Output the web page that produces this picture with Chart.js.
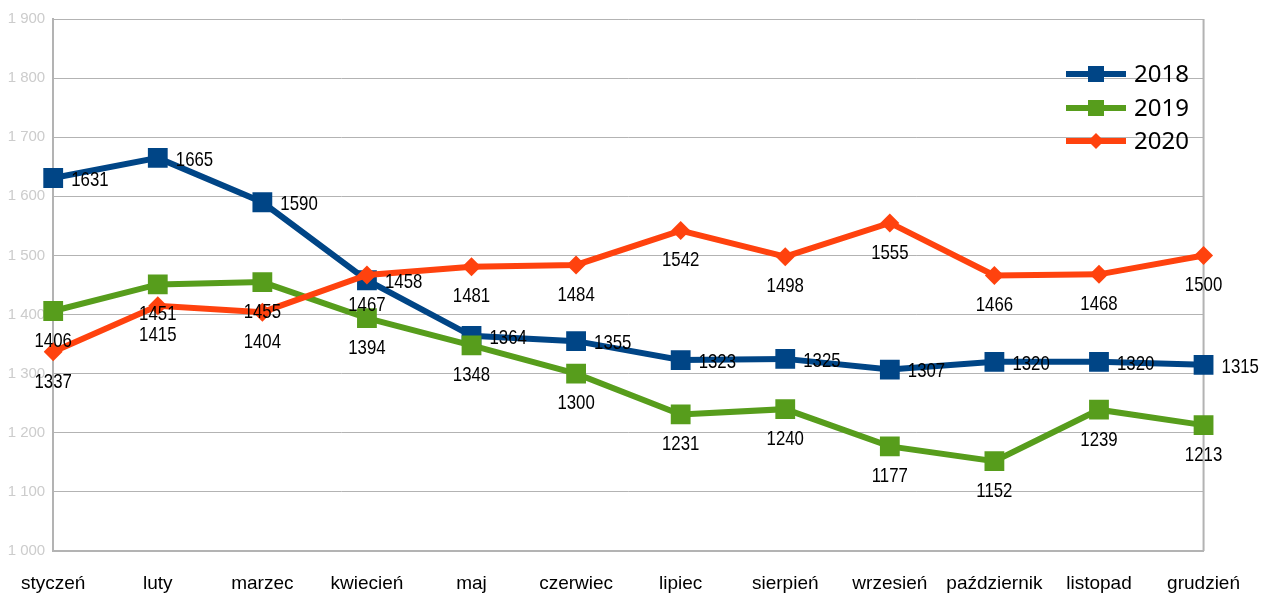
<!DOCTYPE html>
<html>
<head>
<meta charset="utf-8">
<script src="https://cdn.jsdelivr.net/npm/chart.js@4/dist/chart.umd.min.js"></script>
<style>
  html, body { margin: 0; padding: 0; background: #fff; }
  canvas { display: block; }
</style>
</head>
<body>
<canvas id="chart" width="1261" height="594"></canvas>
<script>
// miesiące
const MONTHS = ['styczeń', 'luty', 'marzec', 'kwiecień', 'maj', 'czerwiec',
    'lipiec', 'sierpień', 'wrzesień', 'październik', 'listopad', 'grudzień'];

const Y2018 = [1631, 1665, 1590, 1458, 1364, 1355, 1323, 1325, 1307, 1320, 1320, 1315];
const Y2019 = [1406, 1451, 1455, 1394, 1348, 1300, 1231, 1240, 1177, 1152, 1239, 1213];
const Y2020 = [1337, 1415, 1404, 1467, 1481, 1484, 1542, 1498, 1555, 1466, 1468, 1500];

const Y_MIN = 1000;
const Y_MAX = 1900;
const Y_STEP = 100;

const SANS = "'Liberation Sans', Arial, sans-serif";
const GRID = '#b3b3b3';

// etykiety wartości przy punktach (wąskie, jak Arial Narrow)
const valueLabels = {
    id: 'valueLabels',
    afterDatasetsDraw(chart) {
        const ctx = chart.ctx;
        const sx = 0.8;
        ctx.save();
        ctx.font = '21px ' + SANS;
        ctx.fillStyle = '#000';
        ctx.textBaseline = 'middle';
        chart.data.datasets.forEach((ds, i) => {
            const meta = chart.getDatasetMeta(i);
            meta.data.forEach((pt, j) => {
                const txt = String(ds.data[j]);
                ctx.save();
                if (ds.labelPos === 'right') {
                    ctx.translate(pt.x + 18, pt.y + 2);
                    ctx.scale(sx, 1);
                    ctx.textAlign = 'left';
                } else {
                    ctx.translate(pt.x, pt.y + 30);
                    ctx.scale(sx, 1);
                    ctx.textAlign = 'center';
                }
                ctx.fillText(txt, 0, 0);
                ctx.restore();
            });
        });
        ctx.restore();
    },
};

// ramka obszaru wykresu + legenda po prawej
const frameAndLegend = {
    id: 'frameAndLegend',
    beforeDatasetsDraw(chart) {
        const { ctx, chartArea: a } = chart;
        ctx.save();
        ctx.strokeStyle = GRID;
        ctx.lineWidth = 2;
        ctx.beginPath();
        ctx.moveTo(a.right, a.top);
        ctx.lineTo(a.right, a.bottom);
        ctx.stroke();
        ctx.restore();
    },
    afterDraw(chart) {
        const ctx = chart.ctx;
        const rows = [74, 108, 141];
        ctx.save();
        chart.data.datasets.forEach((ds, i) => {
            const y = rows[i];
            ctx.strokeStyle = ds.borderColor;
            ctx.lineWidth = 6;
            ctx.beginPath();
            ctx.moveTo(1066, y);
            ctx.lineTo(1126, y);
            ctx.stroke();
            ctx.fillStyle = ds.borderColor;
            ctx.beginPath();
            if (ds.pointStyle === 'rectRot') {
                ctx.moveTo(1096, y - 8);
                ctx.lineTo(1104, y);
                ctx.lineTo(1096, y + 8);
                ctx.lineTo(1088, y);
                ctx.closePath();
            } else {
                ctx.rect(1088, y - 8, 16, 16);
            }
            ctx.fill();
            ctx.fillStyle = '#000';
            ctx.font = "24px 'Noto Sans', sans-serif";
            ctx.textAlign = 'left';
            ctx.textBaseline = 'middle';
            ctx.fillText(ds.label, 1134, y + 1);
        });
        ctx.restore();
    },
};

function series(label, data, color, style, radius, order, labelPos) {
    return {
        label, data,
        borderColor: color,
        backgroundColor: color,
        borderWidth: 6,
        tension: 0,
        pointStyle: style,
        pointRadius: radius,
        pointHoverRadius: radius,
        pointBorderWidth: 0,
        order,
        labelPos,
    };
}

new Chart(document.getElementById('chart'), {
    type: 'line',
    data: {
        labels: MONTHS,
        datasets: [
            series('2018', Y2018, '#004586', 'rect', 14, 2, 'right'),
            series('2019', Y2019, '#579d1c', 'rect', 14, 1, 'below'),
            series('2020', Y2020, '#ff420e', 'rectRot', 9.5, 0, 'below'),
        ],
    },
    options: {
        responsive: false,
        animation: false,
        devicePixelRatio: 1,
        layout: { padding: { top: 19, right: 56, left: 0, bottom: 0 } },
        plugins: {
            legend: { display: false },
            tooltip: { enabled: false },
        },
        scales: {
            x: {
                offset: false,
                grid: { display: false, drawTicks: false },
                border: { color: GRID, width: 2 },
                ticks: {
                    color: '#000',
                    font: { family: SANS, size: 19 },
                    padding: 21,
                    maxRotation: 0,
                    autoSkip: false,
                },
                afterFit(scale) { scale.height = 43; },
            },
            y: {
                min: Y_MIN,
                max: Y_MAX,
                grid: { color: GRID, lineWidth: 1, drawTicks: false },
                border: { color: GRID, width: 2 },
                ticks: {
                    stepSize: Y_STEP,
                    color: '#cccccc',
                    font: { family: SANS, size: 15 },
                    padding: 8,
                    callback: v => String(v).replace(/\B(?=(\d{3})+(?!\d))/g, ' '),
                },
                afterFit(scale) { scale.width = 53; },
            },
        },
    },
    plugins: [frameAndLegend, valueLabels],
});
</script>
</body>
</html>
